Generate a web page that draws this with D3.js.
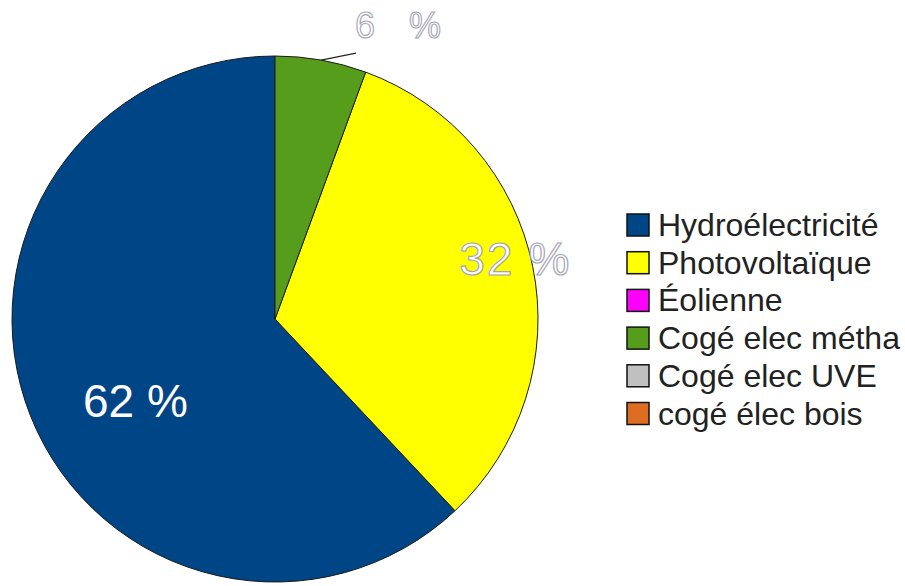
<!DOCTYPE html>
<html>
<head>
<meta charset="utf-8">
<script src="https://cdn.jsdelivr.net/npm/d3@7"></script>
<style>
  body { margin: 0; background: #fff; }
  svg { display: block; font-family: "Liberation Sans", Arial, sans-serif; }
</style>
</head>
<body>
<div id="chart"></div>
<script>
// Répartition de la production d'électricité renouvelable
const categories = ["Hydroélectricité", "Photovoltaïque", "Éolienne", "Cogé elec métha", "Cogé elec UVE", "cogé élec bois"];
const values = [62.0, 32.4, 0, 5.6, 0, 0];
const colors = ["#004586", "#ffff00", "#ff00ff", "#579d1c", "#c0c0c0", "#dd6d21"];

const width = 905, height = 586;
const cx = 275, cy = 319, radius = 263;

const svg = d3.select("#chart").append("svg")
  .attr("width", width).attr("height", height);

// counter-clockwise from 12 o'clock, like the original
const pie = d3.pie().sort(null).value(d => d.v)
  .startAngle(0).endAngle(-2 * Math.PI);
const arcs = pie(categories.map((c, i) => ({ c, v: values[i], col: colors[i] })));

const arc = d3.arc().innerRadius(0).outerRadius(radius);
const g = svg.append("g").attr("transform", `translate(${cx},${cy})`);

g.selectAll("path.slice")
  .data(arcs.filter(a => a.data.v > 0))
  .join("path")
  .attr("class", "slice")
  .attr("d", arc)
  .attr("fill", d => d.data.col)
  .attr("stroke", "#1a1a1a")
  .attr("stroke-width", 1);

// labels
const pct = v => Math.round(v) + " %";
const at = (a, r) => {
  const m = (a.startAngle + a.endAngle) / 2;
  return [Math.sin(m) * r, -Math.cos(m) * r];
};

// Hydro: white inside
const aH = arcs[0];
const pH = at(aH, radius * 0.62);
g.append("text")
  .attr("x", pH[0] + 12).attr("y", pH[1] + 26)
  .attr("text-anchor", "middle").attr("dominant-baseline", "middle")
  .attr("font-size", 46).attr("fill", "#fff")
  .text(pct(aH.data.v));

// Photovoltaïque: outlined, on the border
const aP = arcs[1];
const pP = at(aP, radius * 0.925);
g.append("text")
  .attr("x", pP[0] + 1).attr("y", pP[1] - 8)
  .attr("text-anchor", "middle").attr("dominant-baseline", "middle")
  .attr("font-size", 46).attr("fill", "#fff")
  .attr("stroke", "#a4a4b4").attr("stroke-width", 1.2)
  .attr("textLength", 110).attr("lengthAdjust", "spacing")
  .text(pct(aP.data.v));

// méthanisation: outside with leader line
const aM = arcs[3];
const p0 = at(aM, radius);
const p1 = [p0[0] + 35, p0[1] - 7];
g.append("line")
  .attr("x1", p0[0]).attr("y1", p0[1])
  .attr("x2", p1[0]).attr("y2", p1[1])
  .attr("stroke", "#222").attr("stroke-width", 1.2);
g.append("text")
  .attr("x", p1[0] - 1).attr("y", p1[1] - 25)
  .attr("dominant-baseline", "middle")
  .attr("font-size", 36).attr("fill", "#fff")
  .attr("stroke", "#a4a4b4").attr("stroke-width", 1.1)
  .attr("textLength", 86).attr("lengthAdjust", "spacing")
  .text(pct(aM.data.v));

// legend
const y = d3.scalePoint().domain(categories).range([225, 413.5]);
const leg = svg.append("g");
const rows = leg.selectAll("g").data(categories).join("g")
  .attr("transform", d => `translate(627,${y(d)})`);
rows.append("rect")
  .attr("x", 0).attr("y", -11).attr("width", 22).attr("height", 22)
  .attr("fill", (d, i) => colors[i])
  .attr("stroke", "#111").attr("stroke-width", 1.5);
rows.append("text")
  .attr("x", 31).attr("y", 0)
  .attr("dominant-baseline", "central")
  .attr("font-size", 32).attr("fill", "#222")
  .text(d => d);
</script>
</body>
</html>
